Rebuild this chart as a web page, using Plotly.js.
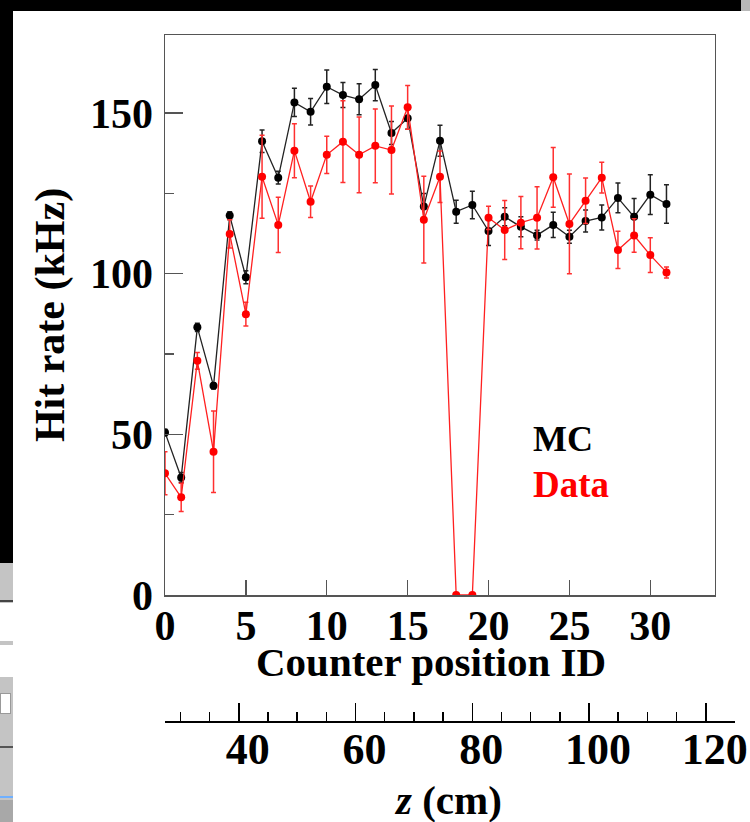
<!DOCTYPE html>
<html>
<head>
<meta charset="utf-8">
<script src="https://cdn.plot.ly/plotly-3.0.1.min.js"></script>
<style>
  html, body { margin: 0; padding: 0; background: #ffffff; }
  #chart { width: 750px; height: 822px; position: absolute; left: 0; top: 0; }
  .deco { position: absolute; z-index: 10; }
</style>
</head>
<body>
<div id="chart"></div>
<!-- screenshot surroundings -->
<div class="deco" style="left:0;top:0;width:741px;height:11px;background:#000;"></div>
<div class="deco" style="left:741px;top:0;width:9px;height:11px;background:#b8b8b8;"></div>
<div class="deco" style="left:0;top:0;width:13px;height:563px;background:#000;"></div>
<div class="deco" style="left:0;top:563px;width:13px;height:259px;background:#c4c4c4;"></div>
<div class="deco" style="left:0;top:600px;width:13px;height:2px;background:#444;"></div>
<div class="deco" style="left:0;top:603px;width:13px;height:38px;background:#fff;"></div>
<div class="deco" style="left:0;top:645px;width:13px;height:32px;background:#fff;"></div>
<div class="deco" style="left:0;top:693px;width:9px;height:19px;background:#fff;border:1px solid #999;"></div>
<div class="deco" style="left:0;top:746px;width:13px;height:2px;background:#555;"></div>
<div class="deco" style="left:0;top:796px;width:13px;height:2px;background:#6fb0ff;"></div>
<div class="deco" style="left:0;top:800px;width:13px;height:22px;background:#a8a8a8;"></div>
<script>
// Counter position IDs
const ids = [0,1,2,3,4,5,6,7,8,9,10,11,12,13,14,15,16,17,18,19,20,21,22,23,24,25,26,27,28,29,30,31];

// MC hit rate (kHz) and errors
const mcRate = [50.6, 36.6, 83.3, 65.1, 118.1, 98.9, 141.2, 129.9, 153.3, 150.4, 158.2, 155.6, 154.3, 158.7, 143.8, 148.4,
                120.9, 141.4, 119.3, 121.4, 113.3, 117.7, 114.6, 112.0, 115.2, 111.5, 116.4, 117.5, 123.6, 117.7, 124.6, 121.7];
const mcErr  = [1.0, 1.5, 1.3, 1.0, 1.2, 2.0, 3.5, 2.0, 4.4, 4.1, 5.2, 3.9, 4.8, 4.9, 3.6, 3.4,
                4.1, 4.8, 3.6, 4.3, 4.5, 2.8, 3.1, 1.5, 3.9, 2.0, 3.4, 3.9, 4.6, 5.7, 6.2, 6.0];

// Data hit rate (kHz) and errors
const dataRate = [37.9, 30.4, 72.9, 44.6, 112.4, 87.4, 130.2, 115.2, 138.3, 122.4, 137.0, 141.1, 137.0, 139.8, 138.5, 151.8,
                  116.8, 130.2, 0, 0, 117.4, 113.6, 115.9, 117.4, 130.0, 115.5, 122.7, 129.9, 107.4, 111.9, 105.8, 100.4];
const dataErr  = [6.7, 4.4, 2.6, 12.7, 4.4, 3.7, 12.9, 8.6, 8.4, 4.9, 5.8, 12.7, 11.8, 11.5, 13.7, 6.8,
                  13.5, 8.0, 0, 0, 3.6, 9.2, 8.1, 9.7, 9.3, 15.5, 7.1, 4.8, 5.8, 5.2, 5.4, 1.7];

// Tick values and texts
const xTicks = [0, 5, 10, 15, 20, 25, 30];
const yTicks = [0, 50, 100, 150];
const zTicks = [40, 60, 80, 100, 120];
const seriesNames = ['MC', 'Data'];
const xTitle = 'Counter position ID';
const yTitle = 'Hit rate (kHz)';
const zTitle = '<i>z</i> (cm)';

const serif = 'Liberation Serif, Times New Roman, serif';
const bigFont = {family: serif, size: 42, color: '#000', weight: 'bold'};

const traces = [
  {
    type: 'scatter', mode: 'lines+markers', name: seriesNames[0],
    x: ids, y: mcRate,
    line: {color: '#222', width: 1.3},
    marker: {color: '#000', size: 8, symbol: 'circle'},
    error_y: {type: 'data', array: mcErr, visible: true, color: '#222', thickness: 1.5, width: 2.5},
    xaxis: 'x', yaxis: 'y', showlegend: false
  },
  {
    type: 'scatter', mode: 'lines+markers', name: seriesNames[1],
    x: ids, y: dataRate,
    line: {color: '#ff2020', width: 1.3},
    marker: {color: '#ff0000', size: 8, symbol: 'circle'},
    error_y: {type: 'data', array: dataErr, visible: true, color: '#ff3030', thickness: 1.5, width: 2.5},
    xaxis: 'x', yaxis: 'y', showlegend: false
  },
  { // carrier for the z (cm) axis
    type: 'scatter', mode: 'markers', x: [], y: [], xaxis: 'x2', yaxis: 'y',
    showlegend: false, hoverinfo: 'skip'
  }
];

const layout = {
  width: 750, height: 822,
  margin: {l: 165, r: 15, t: 35, b: 60},
  paper_bgcolor: '#ffffff', plot_bgcolor: 'rgba(0,0,0,0)',
  showlegend: false,
  xaxis: {
    domain: [0, 0.96491], anchor: 'y',
    range: [0, 34.0], tickvals: xTicks, ticktext: xTicks.map(String),
    ticks: 'inside', ticklen: 15, tickwidth: 1.3, tickcolor: '#555',
    showline: true, linecolor: '#555', linewidth: 1.5, mirror: true,
    showgrid: false, zeroline: false,
    tickfont: bigFont, ticklabelstandoff: -7
  },
  yaxis: {
    domain: [0.2297, 1], anchor: 'x',
    range: [0, 174.3], tickvals: yTicks, ticktext: yTicks.map(String),
    ticks: 'inside', ticklen: 18, tickwidth: 1.3, tickcolor: '#555',
    minor: {dtick: 25, tick0: 0, ticks: 'inside', ticklen: 9, tickwidth: 1.3, tickcolor: '#555', showgrid: false},
    showline: true, linecolor: '#555', linewidth: 1.5, mirror: true,
    showgrid: false, zeroline: false,
    tickfont: bigFont, ticklabelstandoff: 2,
    title: {text: yTitle, font: {family: serif, size: 42, color: '#000', weight: 'bold'}, standoff: 12}
  },
  xaxis2: {
    domain: [0, 1], anchor: 'free', position: 0.055, side: 'bottom',
    range: [27.36, 125.0], tickvals: zTicks, ticktext: zTicks.map(String),
    ticks: 'inside', ticklen: 18, tickwidth: 1.5, tickcolor: '#000',
    minor: {dtick: 5, tick0: 0, ticks: 'inside', ticklen: 9, tickwidth: 1.5, tickcolor: '#000', showgrid: false},
    showline: true, linecolor: '#000', linewidth: 2,
    showgrid: false, zeroline: false,
    tickfont: {family: serif, size: 44, color: '#000', weight: 'bold'},
    ticklabelshift: 9, ticklabelstandoff: -12, ticklabeloverflow: 'allow'
  },
  annotations: [
    {text: xTitle, xref: 'paper', yref: 'paper', x: 0.4667, y: 0.1375, xanchor: 'center', yanchor: 'middle',
     showarrow: false, font: {family: serif, size: 41, color: '#000', weight: 'bold'}},
    {text: zTitle, xref: 'paper', yref: 'paper', x: 0.4965, y: -0.0523, xanchor: 'center', yanchor: 'middle',
     showarrow: false, font: {family: serif, size: 41, color: '#000', weight: 'bold'}},
    {text: seriesNames[0], xref: 'x', yref: 'y', x: 22.6, y: 48.7, xanchor: 'left', yanchor: 'middle',
     showarrow: false, font: {family: serif, size: 36, color: '#000', weight: 'bold'}},
    {text: seriesNames[1], xref: 'x', yref: 'y', x: 22.6, y: 34.4, xanchor: 'left', yanchor: 'middle',
     showarrow: false, font: {family: serif, size: 37, color: '#ff0000', weight: 'bold'}}
  ]
};

Plotly.newPlot('chart', traces, layout, {displayModeBar: false, staticPlot: true});
</script>
</body>
</html>
